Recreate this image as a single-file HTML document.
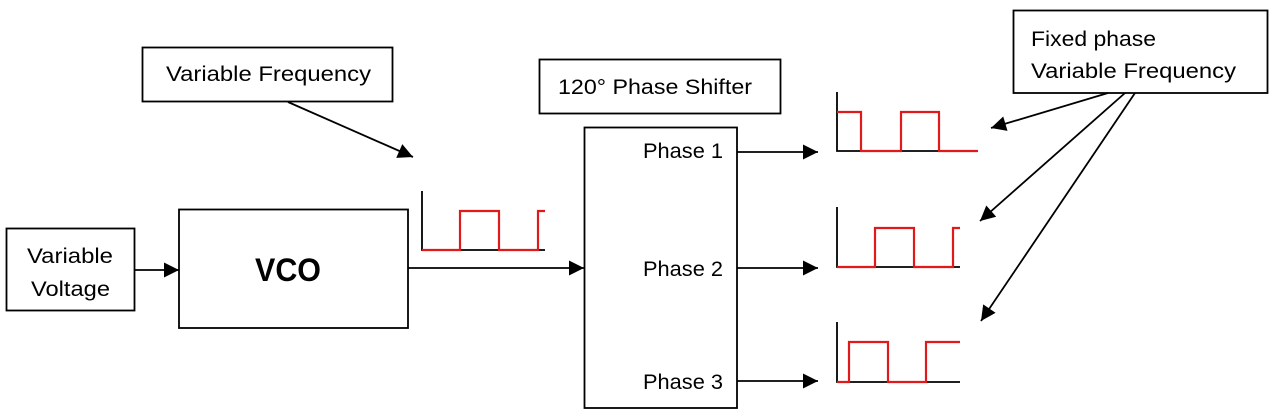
<!DOCTYPE html>
<html><head><meta charset="utf-8"><style>
html,body{margin:0;padding:0;background:#fff;}
svg{display:block;}
text{font-family:"Liberation Sans",sans-serif;font-size:21px;fill:#000;}
</style></head><body>
<svg width="1276" height="417" viewBox="0 0 1276 417" xmlns="http://www.w3.org/2000/svg">
<defs>
<marker id="a" viewBox="0 0 10 10" refX="10" refY="5" markerWidth="16" markerHeight="15" markerUnits="userSpaceOnUse" orient="auto">
<path d="M0,0 L10,5 L0,10 z" fill="#000"/></marker>
</defs>
<g fill="none" stroke="#000" stroke-width="1.8">
<rect x="6.5" y="228.5" width="128" height="82"/>
<rect x="179" y="209.5" width="229" height="118.5"/>
<rect x="142.5" y="47.5" width="250" height="54"/>
<rect x="539.5" y="59.5" width="241" height="54"/>
<rect x="584.5" y="127.5" width="152.5" height="280.5"/>
<rect x="1013.5" y="10.5" width="254" height="82.5"/>
</g>
<g stroke="#000" stroke-width="1.8" marker-end="url(#a)">
<line x1="135" y1="270" x2="179" y2="270"/>
<line x1="408" y1="268" x2="584" y2="268"/>
<line x1="737" y1="152" x2="818" y2="152"/>
<line x1="737" y1="268" x2="818" y2="268"/>
<line x1="737" y1="381" x2="818" y2="381"/>
<line x1="288" y1="102" x2="413" y2="157"/>
<line x1="1108" y1="93" x2="991" y2="128"/>
<line x1="1125" y1="93" x2="980" y2="221"/>
<line x1="1135" y1="93" x2="981" y2="321"/>
</g>
<g fill="none" stroke="#000" stroke-width="1.8">
<polyline points="422,191 422,250 545,250"/>
<polyline points="837,92 837,151 965,151"/>
<polyline points="837,207 837,267 960,267"/>
<polyline points="837,322 837,382 960,382"/>
</g>
<g fill="none" stroke="#e01a1a" stroke-width="2.2">
<polyline points="422,250 460,250 460,211 499,211 499,250 538,250 538,211 545,211"/>
<polyline points="837,112 861,112 861,151 901,151 901,112 939,112 939,151 978,151"/>
<polyline points="837,267 875,267 875,228 914,228 914,267 953,267 953,228 960,228"/>
<polyline points="837,382 849,382 849,342 888,342 888,382 926,382 926,342 960,342"/>
</g>
<text x="166" y="81" textLength="205" lengthAdjust="spacingAndGlyphs">Variable Frequency</text>
<text x="558" y="94" textLength="194" lengthAdjust="spacingAndGlyphs">120° Phase Shifter</text>
<text x="1031" y="46" textLength="125" lengthAdjust="spacingAndGlyphs">Fixed phase</text>
<text x="1031" y="78" textLength="205" lengthAdjust="spacingAndGlyphs">Variable Frequency</text>
<text x="27" y="263" textLength="86" lengthAdjust="spacingAndGlyphs">Variable</text>
<text x="31" y="296" textLength="79" lengthAdjust="spacingAndGlyphs">Voltage</text>
<text x="255" y="281" style="font-size:32px;font-weight:bold" textLength="66" lengthAdjust="spacingAndGlyphs">VCO</text>
<text x="643" y="158" textLength="80" lengthAdjust="spacingAndGlyphs">Phase 1</text>
<text x="643" y="276" textLength="80" lengthAdjust="spacingAndGlyphs">Phase 2</text>
<text x="643" y="389" textLength="80" lengthAdjust="spacingAndGlyphs">Phase 3</text>
</svg>
</body></html>
